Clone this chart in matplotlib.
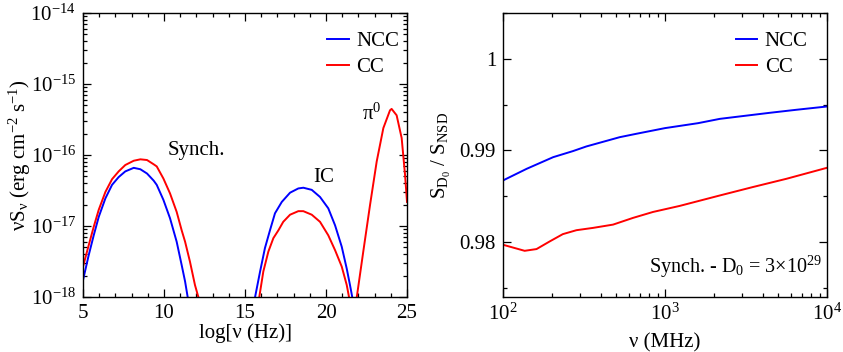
import numpy as np
import matplotlib

matplotlib.use("Agg")
import matplotlib.pyplot as plt
from matplotlib.ticker import LogLocator, MultipleLocator, FuncFormatter, NullFormatter

plt.rcParams["font.family"] = ["Liberation Serif", "DejaVu Serif"]
plt.rcParams["mathtext.fontset"] = "custom"
plt.rcParams["mathtext.rm"] = "Liberation Serif"
plt.rcParams["mathtext.it"] = "Liberation Serif:italic"
plt.rcParams["mathtext.bf"] = "Liberation Serif:bold"
plt.rcParams["font.size"] = 15

# --- left panel: SED, log10(nu/Hz) vs log10(nu S_nu) ---
sync_x_ncc = [5.0, 5.35, 5.66, 5.97, 6.38, 6.79, 7.2, 7.61, 8.13, 8.54, 8.95, 9.36,
              9.55, 9.96, 10.37, 10.78, 11.09, 11.3, 11.46]
sync_y_ncc = [-17.76, -17.41, -17.13, -16.87, -16.61, -16.42, -16.31, -16.23, -16.18,
              -16.20, -16.26, -16.36, -16.42, -16.63, -16.89, -17.22, -17.55, -17.78, -18.0]
sync_x_cc = [5.0, 5.35, 5.66, 5.97, 6.38, 6.79, 7.2, 7.61, 8.13, 8.54, 8.95, 9.36,
             9.55, 9.96, 10.37, 10.78, 11.09, 11.3, 11.6, 11.91, 12.12]
sync_y_cc = [-17.57, -17.27, -17.01, -16.77, -16.52, -16.34, -16.23, -16.14, -16.08,
             -16.06, -16.07, -16.13, -16.16, -16.33, -16.54, -16.80, -17.06, -17.22,
             -17.50, -17.83, -18.0]

ic_x_ncc = [15.62, 15.93, 16.23, 16.54, 16.85, 17.27, 17.78, 18.29, 18.6, 19.12, 19.63,
            20.14, 20.56, 20.97, 21.28, 21.48, 21.62]
ic_y_ncc = [-18.0, -17.64, -17.31, -17.06, -16.82, -16.66, -16.53, -16.47, -16.46,
            -16.49, -16.59, -16.75, -16.99, -17.29, -17.60, -17.83, -18.0]
ic_x_cc = [15.88, 16.13, 16.44, 16.75, 17.06, 17.36, 17.78, 18.29, 18.6, 19.12, 19.63,
           20.14, 20.56, 20.97, 21.28, 21.42]
ic_y_cc = [-18.0, -17.64, -17.36, -17.17, -17.06, -16.94, -16.84, -16.79, -16.79,
           -16.84, -16.94, -17.13, -17.34, -17.57, -17.83, -18.0]

pi0_x = [21.9, 22.3, 22.72, 23.13, 23.54, 23.95, 24.05, 24.36, 24.67, 24.88, 25.0]
pi0_y = [-18.0, -17.36, -16.70, -16.09, -15.62, -15.37, -15.35, -15.44, -15.76, -16.28, -16.66]

# --- right panel: S_D0 / S_NSD vs frequency (MHz) ---
freq_ncc = [100, 140, 204, 270, 327, 525, 665, 1000, 1600, 2180, 2880, 4430, 6460, 10000]
ratio_ncc = [0.98673, 0.98800, 0.98927, 0.98993, 0.99044, 0.99145, 0.99182, 0.99244,
             0.99298, 0.99345, 0.99371, 0.99411, 0.99444, 0.99480]
freq_cc = [100, 136, 161, 194, 234, 284, 359, 478, 634, 843, 1232, 2180, 3470, 5620, 10000]
ratio_cc = [0.97971, 0.97905, 0.97924, 0.98007, 0.98087, 0.98130, 0.98155, 0.98191,
            0.98264, 0.98329, 0.98395, 0.98509, 0.98600, 0.98691, 0.98811]

BLUE = "#0000ff"
RED = "#ff0000"
LW = 1.4


def style_axes(ax):
    ax.tick_params(which="both", direction="in", top=True, right=True, width=0.9)
    ax.tick_params(which="major", length=6, pad=5)
    ax.tick_params(which="minor", length=3)
    for s in ax.spines.values():
        s.set_linewidth(1.0)


def add_legend(ax, xr):
    ax.legend(loc="upper right", frameon=False, handlelength=1.05, handletextpad=0.35,
              borderaxespad=0.0, borderpad=0.0, labelspacing=0.3,
              bbox_to_anchor=(xr, 0.935))


fig = plt.figure(figsize=(8.43, 3.52), dpi=100)
ax1 = fig.add_axes([0.0985, 0.156, 0.3843, 0.807])
ax2 = fig.add_axes([0.5967, 0.156, 0.3843, 0.807])

ax1.plot(sync_x_ncc, 10 ** np.array(sync_y_ncc), color=BLUE, lw=LW, label="NCC")
ax1.plot(ic_x_ncc, 10 ** np.array(ic_y_ncc), color=BLUE, lw=LW)
ax1.plot(sync_x_cc, 10 ** np.array(sync_y_cc), color=RED, lw=LW, label="CC")
ax1.plot(ic_x_cc, 10 ** np.array(ic_y_cc), color=RED, lw=LW)
ax1.plot(pi0_x, 10 ** np.array(pi0_y), color=RED, lw=LW)
ax1.set_yscale("log")
ax1.set_xlim(5, 25)
ax1.set_ylim(1e-18, 1e-14)
ax1.xaxis.set_major_locator(MultipleLocator(5))
ax1.xaxis.set_minor_locator(MultipleLocator(1))
ax1.yaxis.set_major_locator(LogLocator(base=10, numticks=10))
ax1.yaxis.set_minor_locator(LogLocator(base=10, subs=np.arange(2, 10), numticks=20))
ax1.yaxis.set_minor_formatter(NullFormatter())
ax1.set_xlabel("log[ν (Hz)]", labelpad=0)
ax1.set_ylabel(r"νS$_{\mathregular{ν}}$ (erg cm$^{-2}$ s$^{-1}$)")
ax1.yaxis.set_label_coords(-0.155, 0.5)
ax1.text(10.2, 10 ** -15.93, "Synch.", ha="left", va="center")
ax1.text(19.2, 10 ** -16.32, "IC", ha="left", va="center")
ax1.text(22.2, 10 ** -15.42, r"π$^{\mathregular{0}}$", ha="left", va="center")
add_legend(ax1, 0.975)
style_axes(ax1)

ax2.plot(freq_ncc, ratio_ncc, color=BLUE, lw=LW, label="NCC")
ax2.plot(freq_cc, ratio_cc, color=RED, lw=LW, label="CC")
ax2.set_xscale("log")
ax2.set_xlim(100, 10000)
ax2.set_ylim(0.974, 1.005)
ax2.yaxis.set_major_locator(MultipleLocator(0.01))
ax2.yaxis.set_minor_locator(MultipleLocator(0.005))
ax2.yaxis.set_major_formatter(FuncFormatter(lambda v, p: "%g" % round(v, 4)))
ax2.xaxis.set_minor_locator(LogLocator(base=10, subs=np.arange(2, 10), numticks=20))
ax2.xaxis.set_minor_formatter(NullFormatter())
ax2.set_xlabel("ν (MHz)", labelpad=6)
ax2.set_ylabel(r"S$_{\mathregular{D}_{\mathregular{0}}}$ / S$_{\mathregular{NSD}}$")
ax2.yaxis.set_label_coords(-0.155, 0.5)
ax2.text(0.985, 0.105, r"Synch. - D$_{\mathregular{0}}$ = 3×10$^{\mathregular{29}}$",
         transform=ax2.transAxes, ha="right", va="center", fontsize=14.5)
add_legend(ax2, 0.94)
style_axes(ax2)

fig.savefig("out.png", dpi=100)
